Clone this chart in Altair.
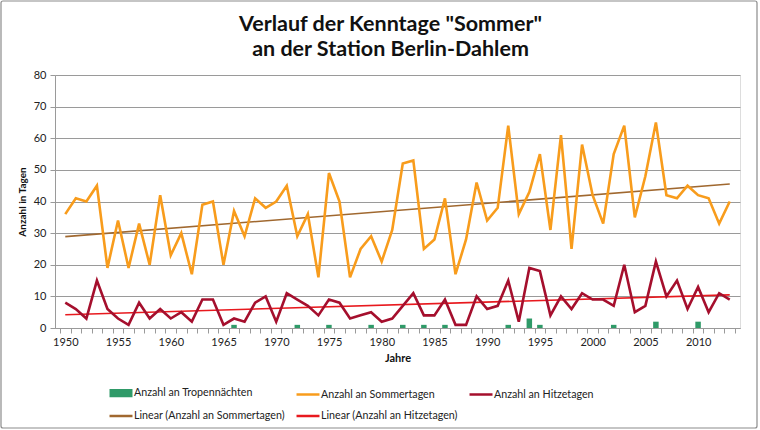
import altair as alt
import pandas as pd

# Jahresreihe 1950-2013, Station Berlin-Dahlem
years = list(range(1950, 2014))

sommertage = [36, 41, 40, 45, 19, 34, 19, 33, 20, 42,
              23, 30, 17, 39, 40, 20, 37, 29, 41, 38,
              40, 45, 29, 36, 16, 49, 40, 16, 25, 29,
              21, 31, 52, 53, 25, 28, 41, 17, 28, 46,
              34, 38, 64, 36, 43, 55, 31, 61, 25, 58,
              42, 33, 55, 64, 35, 48, 65, 42, 41, 45,
              42, 41, 33, 40]

hitzetage = [8, 6, 3, 15, 6, 3, 1, 8, 3, 6,
             3, 5, 2, 9, 9, 1, 3, 2, 8, 10,
             2, 11, 9, 7, 4, 9, 8, 3, 4, 5,
             2, 3, 7, 11, 4, 4, 9, 1, 1, 10,
             6, 7, 15, 2, 19, 18, 4, 10, 6, 11,
             9, 9, 7, 20, 5, 7, 21, 10, 15, 6,
             13, 5, 11, 9]

tropennaechte = [0, 0, 0, 0, 0, 0, 0, 0, 0, 0,
                 0, 0, 0, 0, 0, 0, 1, 0, 0, 0,
                 0, 0, 1, 0, 0, 1, 0, 0, 0, 1,
                 0, 0, 1, 0, 1, 0, 1, 0, 0, 0,
                 0, 0, 1, 0, 3, 1, 0, 0, 0, 0,
                 0, 0, 1, 0, 0, 0, 2, 0, 0, 0,
                 2, 0, 0, 0]

series_names = ["Anzahl an Tropennächten", "Anzahl an Sommertagen",
                "Anzahl an Hitzetagen", "Linear (Anzahl an Sommertagen)",
                "Linear (Anzahl an Hitzetagen)"]
series_colors = ["#2F9A68", "#F89C1C", "#A50F2D", "#A0682F", "#E8191E"]

y_ticks = list(range(0, 81, 10))

df = pd.DataFrame({
    "Jahr": years,
    "Sommertage": sommertage,
    "Hitzetage": hitzetage,
    "Tropennaechte": tropennaechte,
})
legend_df = pd.DataFrame({"Reihe": series_names})

FONT = "Lato"
GRID = "#9a9a9a"
W, H = 685, 253
half_step = W / len(years) / 2

# ticks sit between the yearly categories, labels every five years
tick_values = [y - 0.5 for y in years] + [years[-1] + 0.5]
x_axis = alt.Axis(
    values=tick_values,
    labelExpr="(datum.value + 0.5) % 5 == 0 ? toString(datum.value + 0.5) : ''",
    labelOffset=half_step, labelOverlap=False, labelFlush=False,
    grid=False, tickSize=5, tickColor=GRID, domainColor=GRID,
    labelFont=FONT, labelFontSize=11, labelColor="#222222", labelPadding=3,
    titleFont=FONT, titleFontSize=11, titleFontWeight="bold",
    titleColor="#111111", titlePadding=5,
)
y_axis = alt.Axis(
    values=y_ticks, grid=True, gridColor=GRID, tickSize=5, tickColor=GRID,
    domainColor=GRID, labelFont=FONT, labelFontSize=11, labelColor="#222222",
    labelPadding=4, labelOverlap=False, titleFont=FONT, titleFontSize=10,
    titleFontWeight="bold", titleColor="#111111", titlePadding=6,
)

x_enc = alt.X("Jahr:Q", title="Jahre", axis=x_axis,
              scale=alt.Scale(domain=[years[0] - 0.5, years[-1] + 0.5],
                              nice=False, zero=False))
y_scale = alt.Scale(domain=[0, 80], nice=False)
Y_TITLE = "Anzahl in Tagen"


def y_enc(field):
    return alt.Y(f"{field}:Q", title=Y_TITLE, axis=y_axis, scale=y_scale)


base = alt.Chart(df).encode(x=x_enc)

bars = base.mark_bar(size=5.5, color=series_colors[0]).encode(y=y_enc("Tropennaechte"))
sommer_line = base.mark_line(color=series_colors[1], strokeWidth=2.6).encode(
    y=y_enc("Sommertage"))
hitze_line = base.mark_line(color=series_colors[2], strokeWidth=2.6).encode(
    y=y_enc("Hitzetage"))
sommer_trend = base.transform_regression(
    "Jahr", "Sommertage", extent=[years[0], years[-1]]
).mark_line(color=series_colors[3], strokeWidth=1.6).encode(y=y_enc("Sommertage"))
hitze_trend = base.transform_regression(
    "Jahr", "Hitzetage", extent=[years[0], years[-1]]
).mark_line(color=series_colors[4], strokeWidth=1.6).encode(y=y_enc("Hitzetage"))

# legend swatches: a solid block for the nights (stacked strokes), lines for the rest
bar_path = "M-2,-0.5H2M-2,-0.25H2M-2,0H2M-2,0.25H2M-2,0.5H2"
line_path = "M-2,0H2"
shape_range = [bar_path] + [line_path] * (len(series_names) - 1)

legend = alt.Legend(
    title=None, orient="none", legendX=59, legendY=311, direction="horizontal",
    columns=3, columnPadding=6, rowPadding=8, padding=0,
    symbolSize=132, symbolOpacity=1, symbolStrokeWidth=2.5, labelOffset=6,
    labelFont=FONT, labelFontSize=10.7, labelColor="#222222",
)
legend_layer = alt.Chart(legend_df).mark_point(opacity=0, filled=False).encode(
    color=alt.Color("Reihe:N", legend=legend,
                    scale=alt.Scale(domain=series_names, range=series_colors)),
    shape=alt.Shape("Reihe:N", legend=legend,
                    scale=alt.Scale(domain=series_names, range=shape_range)),
)

# thin frame around the whole chart area
frame = alt.Chart(legend_df.head(1)).mark_rect(
    fill=None, stroke="#8c8c8c", strokeWidth=1.2, cornerRadius=2
).encode(
    x=alt.value(-54), x2=alt.value(702),
    y=alt.value(-74), y2=alt.value(353),
)

chart = alt.layer(
    bars, sommer_trend, hitze_trend, sommer_line, hitze_line, legend_layer, frame
).properties(
    width=W, height=H,
    title=alt.TitleParams(
        text=['Verlauf der Kenntage "Sommer"', "an der Station Berlin-Dahlem"],
        font=FONT, fontSize=21.5, fontWeight="bold", color="#111111",
        lineHeight=25, anchor="middle", dx=-7, dy=60, offset=0,
    ),
    autosize=alt.AutoSizeParams(type="none"),
    padding={"left": 55, "top": 75, "right": 20, "bottom": 102},
).configure_view(stroke=None).configure(background="white")

chart.save("out.html", embed_options={"renderer": "svg", "actions": False})
